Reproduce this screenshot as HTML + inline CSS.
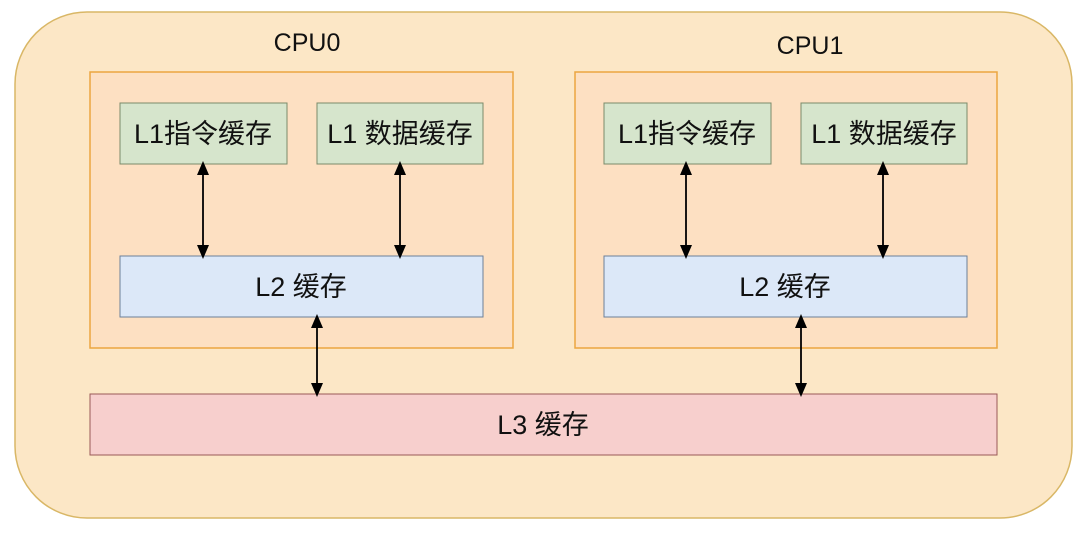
<!DOCTYPE html>
<html><head><meta charset="utf-8"><style>
body{margin:0;width:1080px;height:531px;background:#fff;overflow:hidden}
</style></head><body>
<svg width="1080" height="531" xmlns="http://www.w3.org/2000/svg" font-family="Liberation Sans, Noto Sans CJK SC, sans-serif">
<defs><marker id="a" markerWidth="14" markerHeight="12" refX="7" refY="6" orient="auto-start-reverse" markerUnits="userSpaceOnUse"><path d="M0,0 L14,6 L0,12 Z" fill="#000"/></marker></defs>
<rect x="15" y="12" width="1057" height="506" rx="72" fill="#fce7c6" stroke="#d9b766" stroke-width="1.5"/>
<text x="307" y="51" font-size="25" text-anchor="middle" fill="#111">CPU0</text>
<text x="810" y="54" font-size="25" text-anchor="middle" fill="#111">CPU1</text>
<rect x="90" y="72" width="423" height="276" fill="#fde0c2" stroke="#eba640" stroke-width="1.5"/>
<rect x="575" y="72" width="422" height="276" fill="#fde0c2" stroke="#eba640" stroke-width="1.5"/>
<g stroke="#7a8a6a" fill="#d6e5cc" stroke-width="1">
<rect x="120" y="103" width="167" height="61"/><rect x="317" y="103" width="166" height="61"/>
<rect x="604" y="103" width="167" height="61"/><rect x="801" y="103" width="166" height="61"/>
</g>
<g stroke="#6c7f99" fill="#dce8f8" stroke-width="1">
<rect x="120" y="256" width="363" height="61"/><rect x="604" y="256" width="363" height="61"/>
</g>
<rect x="90" y="394" width="907" height="61" fill="#f7cfcd" stroke="#9a5a58" stroke-width="1"/>
<g font-size="27" fill="#111" text-anchor="middle">
<text x="203" y="143">L1指令缓存</text><text x="400" y="143">L1 数据缓存</text>
<text x="687" y="143">L1指令缓存</text><text x="884" y="143">L1 数据缓存</text>
<text x="301" y="296">L2 缓存</text><text x="785" y="296">L2 缓存</text>
<text x="543" y="434">L3 缓存</text>
</g>
<g stroke="#000" stroke-width="1.8" marker-start="url(#a)" marker-end="url(#a)">
<line x1="203" y1="168" x2="203" y2="252"/><line x1="400" y1="168" x2="400" y2="252"/>
<line x1="686" y1="168" x2="686" y2="252"/><line x1="883" y1="168" x2="883" y2="252"/>
<line x1="317" y1="321" x2="317" y2="390"/><line x1="801" y1="321" x2="801" y2="390"/>
</g>
</svg>
</body></html>
